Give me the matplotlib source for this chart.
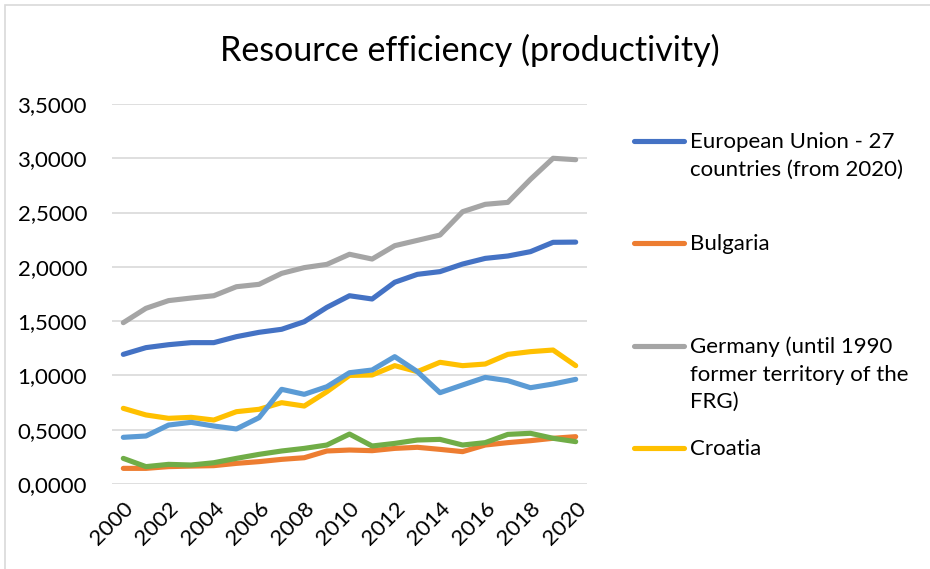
import matplotlib
matplotlib.use("Agg")
import matplotlib.pyplot as plt
from matplotlib.lines import Line2D
from matplotlib.patches import Rectangle
from matplotlib.ticker import FuncFormatter, MultipleLocator

plt.rcParams['font.family'] = ['Lato', 'DejaVu Sans']

# data
years = list(range(2000, 2021))

eu27 = [1.194, 1.256, 1.283, 1.302, 1.302, 1.357, 1.397, 1.425, 1.495, 1.627, 1.734,
        1.704, 1.858, 1.931, 1.956, 2.026, 2.078, 2.100, 2.140, 2.226, 2.228]
bulgaria = [0.144, 0.144, 0.160, 0.165, 0.169, 0.190, 0.206, 0.227, 0.242, 0.304, 0.313,
            0.307, 0.328, 0.338, 0.319, 0.298, 0.359, 0.381, 0.399, 0.421, 0.436]
germany = [1.486, 1.618, 1.689, 1.713, 1.734, 1.817, 1.839, 1.940, 1.993, 2.023, 2.116,
           2.072, 2.195, 2.244, 2.293, 2.508, 2.576, 2.594, 2.806, 3.000, 2.987]
croatia = [0.697, 0.636, 0.605, 0.614, 0.589, 0.666, 0.688, 0.749, 0.718, 0.850, 1.000,
           1.004, 1.090, 1.035, 1.121, 1.090, 1.105, 1.194, 1.219, 1.234, 1.090]
series5 = [0.430, 0.442, 0.543, 0.568, 0.534, 0.507, 0.611, 0.872, 0.826, 0.896, 1.025,
           1.050, 1.173, 1.035, 0.841, 0.912, 0.982, 0.952, 0.887, 0.921, 0.964]
series6 = [0.236, 0.160, 0.181, 0.175, 0.196, 0.236, 0.273, 0.304, 0.328, 0.359, 0.460,
           0.350, 0.374, 0.405, 0.411, 0.359, 0.381, 0.457, 0.467, 0.421, 0.390]

legend_labels = ["European Union - 27\ncountries (from 2020)",
                 "Bulgaria",
                 "Germany (until 1990\nformer territory of the\nFRG)",
                 "Croatia"]
colors = ["#4472C4", "#ED7D31", "#A5A5A5", "#FFC000", "#5B9BD5", "#70AD47"]

W, H = 930, 569
fig = plt.figure(figsize=(W / 100, H / 100), dpi=100)
ax = fig.add_axes([112 / W, 1 - 484 / H, 475 / W, 380 / H])

all_series = [eu27, bulgaria, germany, croatia, series5, series6]
for vals, c in zip(all_series, colors):
    ax.plot(years, vals, color=c, lw=3.7, solid_capstyle='round',
            solid_joinstyle='round', zorder=3)

ax.set_xlim(1999.5, 2020.5)
ax.set_ylim(0, 3.5)
ax.yaxis.set_major_locator(MultipleLocator(0.5))
ax.yaxis.set_major_formatter(FuncFormatter(lambda v, p: f"{v:.4f}".replace(".", ",")))
ax.set_xticks(years[::2])
ax.set_xticklabels([str(y) for y in years[::2]], rotation=45, ha='right',
                   va='top', rotation_mode='anchor')
ax.tick_params(length=0, labelsize=16, colors='black')
ax.tick_params(axis='y', pad=18)
ax.tick_params(axis='x', pad=10)
ax.grid(axis='y', color='#D9D9D9', lw=1.2)
ax.set_axisbelow(True)
for s in ax.spines.values():
    s.set_visible(False)

fig.text(470 / W, 1 - 50 / H, "Resource efficiency (productivity)",
         ha='center', va='center', fontsize=24.5)

# legend drawn by hand, handle level with the first text line
for i, (lab, c) in enumerate(zip(legend_labels, colors[:4])):
    yy = 1 - (141 + i * 102.3) / H
    fig.add_artist(Line2D([634 / W, 684 / W], [yy, yy], color=c, lw=3.7,
                          solid_capstyle='round', transform=fig.transFigure))
    fig.text(690 / W, yy + 9 / H, lab, ha='left', va='top', fontsize=16,
             linespacing=1.47)

# chart border (only top/left visible in the crop)
fig.add_artist(Rectangle((5 / W, -0.1), 1.1, 1.1 - 5 / H, fill=False,
                         edgecolor='#D9D9D9', lw=1.2, transform=fig.transFigure))

fig.savefig("out.png", dpi=100)
